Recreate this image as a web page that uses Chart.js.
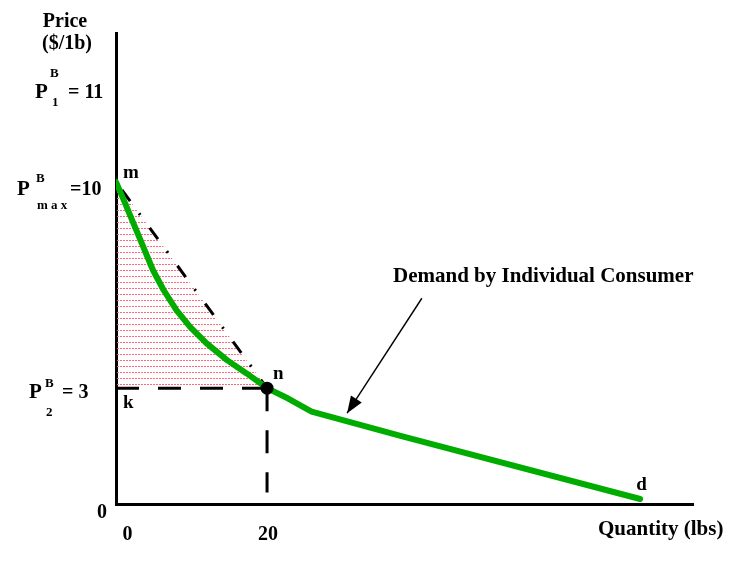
<!DOCTYPE html>
<html>
<head>
<meta charset="utf-8">
<script src="https://cdn.jsdelivr.net/npm/chart.js@4.4.1/dist/chart.umd.min.js"></script>
<style>
  html, body { margin: 0; padding: 0; background: #fff; }
</style>
</head>
<body>
<canvas id="chartId" width="754" height="571" style="width:754px;height:571px"></canvas>
<script>
// demand by individual consumer: quantity (lbs) vs price ($/lb)
var demandQty   = [0, 1.2, 2.3, 3.6, 4.9, 6.3, 8.0, 9.8, 12, 14.7, 17.3, 20, 22.8, 25.9, 37.8, 69.4]
var demandPrice = [10, 9.28, 8.6, 7.8, 7.0, 6.33, 5.65, 5.08, 4.52, 3.95, 3.5, 3, 2.73, 2.39, 1.76, 0.13]

// straight chord m -> n
var chordQty   = [0, 20]
var chordPrice = [10, 3]

// dashed guides k -> n and n -> axis
var kLineQty   = [0, 20]
var kLinePrice = [3, 3]
var dropQty    = [20, 20]
var dropPrice  = [3, 0.3]

// point n
var pointQty   = [20]
var pointPrice = [3]

// arrow from the caption to the curve
var arrowQty   = [40.5, 30.6]
var arrowPrice = [6.05, 2.35]

// ticks
var qtyTicks     = [0, 20]
var priceTicks   = [11, 10, 3, 0]
var priceTickSub = ['1', 'm a x', '2', '']
var priceTickEnd = ['= 11', '=10', '= 3', '0']

// letters on the diagram
var letterText  = ['m', 'n', 'k', 'd']
var letterQty   = [0, 20, 0, 69.4]
var letterPrice = [10, 3, 3, 0.13]

// the price axis is not drawn to scale: value -> share of axis height
var priceAxisBreaks = [[0, 0], [3, 0.246], [10, 0.684], [11, 0.885], [12, 1]]

class BrokenScale extends Chart.LinearScale {
  _frac(v) {
    var b = priceAxisBreaks
    for (var i = 1; i < b.length; i++) {
      if (v <= b[i][0] || i === b.length - 1) {
        var t = (v - b[i-1][0]) / (b[i][0] - b[i-1][0])
        return b[i-1][1] + t * (b[i][1] - b[i-1][1])
      }
    }
  }
  getPixelForValue(v) {
    return this.bottom - this._frac(v) * (this.bottom - this.top)
  }
  getValueForPixel(p) {
    var f = (this.bottom - p) / (this.bottom - this.top)
    var b = priceAxisBreaks
    for (var i = 1; i < b.length; i++) {
      if (f <= b[i][1] || i === b.length - 1) {
        var t = (f - b[i-1][1]) / (b[i][1] - b[i-1][1])
        return b[i-1][0] + t * (b[i][0] - b[i-1][0])
      }
    }
  }
}
BrokenScale.id = 'broken'
BrokenScale.defaults = {}
Chart.register(BrokenScale)

function pts(xs, ys) {
  return xs.map(function (x, i) { return {x: x, y: ys[i]} })
}

var chrt = document.getElementById('chartId').getContext('2d')

// pink dotted hatching
var pat = document.createElement('canvas')
pat.width = 3; pat.height = 6
var pc = pat.getContext('2d')
pc.fillStyle = 'rgb(255,105,125)'
pc.fillRect(0, 0, 2, 1)
var pinkHatch = chrt.createPattern(pat, 'repeat')

var SERIF = '"Liberation Serif", "Times New Roman", serif'
function txt(ctx, s, x, y, size, align) {
  ctx.font = 'bold ' + size + 'px ' + SERIF
  ctx.textAlign = align || 'left'
  ctx.textBaseline = 'alphabetic'
  ctx.fillText(s, x, y)
}

// where the pieces of each price tick label sit
var tickLayout = [
  {px: 35, dy: 11, bx: 50, by: -21, sx: 52, sy: 8,  tx: 68},
  {px: 17, dy: 13, bx: 36, by: -13, sx: 37, sy: 14, tx: 70},
  {px: 29, dy: 10, bx: 45, by: -11, sx: 46, sy: 18, tx: 62},
  {tx: 97, dy: 14}
]
var letterOffset = [[7, -4], [6, -9], [7, 20], [-4, -9]]
var qtyTickShift = [11.5, 1]

var labels = {
  id: 'labels',
  afterDraw(chart) {
    var ctx = chart.ctx
    var xs = chart.scales.x, ys = chart.scales.y
    ctx.save()
    ctx.fillStyle = '#000'

    priceTicks.forEach(function (v, i) {
      var L = tickLayout[i]
      var y0 = ys.getPixelForValue(v) + L.dy
      if (priceTickSub[i]) {
        txt(ctx, 'P', L.px, y0, 21)
        txt(ctx, 'B', L.bx, y0 + L.by, 13)
        txt(ctx, priceTickSub[i], L.sx, y0 + L.sy, 13)
      }
      txt(ctx, priceTickEnd[i], L.tx, y0, 20)
    })

    qtyTicks.forEach(function (v, i) {
      txt(ctx, String(v), xs.getPixelForValue(v) + qtyTickShift[i], xs.top + 36, 20, 'center')
    })

    letterText.forEach(function (s, i) {
      var o = letterOffset[i]
      txt(ctx, s, xs.getPixelForValue(letterQty[i]) + o[0], ys.getPixelForValue(letterPrice[i]) + o[1], 19)
    })

    txt(ctx, 'Price', 65, 27, 20, 'center')
    txt(ctx, '($/1b)', 67, 49, 20, 'center')
    txt(ctx, 'Quantity (lbs)', 598, 535, 21)
    txt(ctx, 'Demand by Individual Consumer', 393, 282, 21)

    // arrow head at the curve end of the arrow
    var x1 = xs.getPixelForValue(arrowQty[0]), y1 = ys.getPixelForValue(arrowPrice[0])
    var x2 = xs.getPixelForValue(arrowQty[1]), y2 = ys.getPixelForValue(arrowPrice[1])
    var a = Math.atan2(y2 - y1, x2 - x1)
    var len = 17, half = 6.5
    ctx.beginPath()
    ctx.moveTo(x2, y2)
    ctx.lineTo(x2 - len * Math.cos(a) + half * Math.sin(a), y2 - len * Math.sin(a) - half * Math.cos(a))
    ctx.lineTo(x2 - len * Math.cos(a) - half * Math.sin(a), y2 - len * Math.sin(a) + half * Math.cos(a))
    ctx.closePath()
    ctx.fill()
    ctx.restore()
  }
}

var demandChart = new Chart(chrt, {
  type: 'line',
  data: {
    datasets: [
      {
        label: 'n',
        data: pts(pointQty, pointPrice),
        showLine: false,
        pointRadius: 6.5,
        pointBackgroundColor: '#000',
        pointBorderWidth: 0
      },
      {
        label: 'Demand by Individual Consumer',
        data: pts(demandQty, demandPrice),
        borderColor: 'rgb(0,172,0)',
        borderWidth: 6,
        borderCapStyle: 'round',
        borderJoinStyle: 'round',
        pointRadius: 0,
        fill: false
      },
      {
        label: 'k-n',
        data: pts(kLineQty, kLinePrice),
        borderColor: '#000',
        borderWidth: 3,
        borderDash: [23, 19],
        pointRadius: 0,
        fill: false
      },
      {
        label: 'n-drop',
        data: pts(dropQty, dropPrice),
        borderColor: '#000',
        borderWidth: 3,
        borderDash: [23, 19],
        pointRadius: 0,
        fill: false
      },
      {
        label: 'arrow',
        data: pts(arrowQty, arrowPrice),
        borderColor: '#000',
        borderWidth: 1.4,
        pointRadius: 0,
        fill: false
      },
      {
        label: 'm-n',
        data: pts(chordQty, chordPrice),
        borderColor: '#000',
        borderWidth: 3,
        borderDash: [14, 15, 2, 16],
        borderDashOffset: 37,
        pointRadius: 0,
        fill: {value: 3},
        backgroundColor: pinkHatch
      }
    ]
  },
  options: {
    responsive: false,
    devicePixelRatio: 1,
    animation: false,
    layout: {padding: {left: 116, right: 61, top: 33, bottom: 67}},
    plugins: {
      legend: {display: false},
      tooltip: {enabled: false}
    },
    scales: {
      x: {
        type: 'linear',
        min: 0,
        max: 76.4,
        ticks: {display: false},
        grid: {display: false, drawTicks: false},
        border: {display: true, color: '#000', width: 3}
      },
      y: {
        type: 'broken',
        min: 0,
        max: 12,
        ticks: {display: false},
        grid: {display: false, drawTicks: false},
        border: {display: true, color: '#000', width: 3}
      }
    }
  },
  plugins: [labels]
})
</script>
</body>
</html>
